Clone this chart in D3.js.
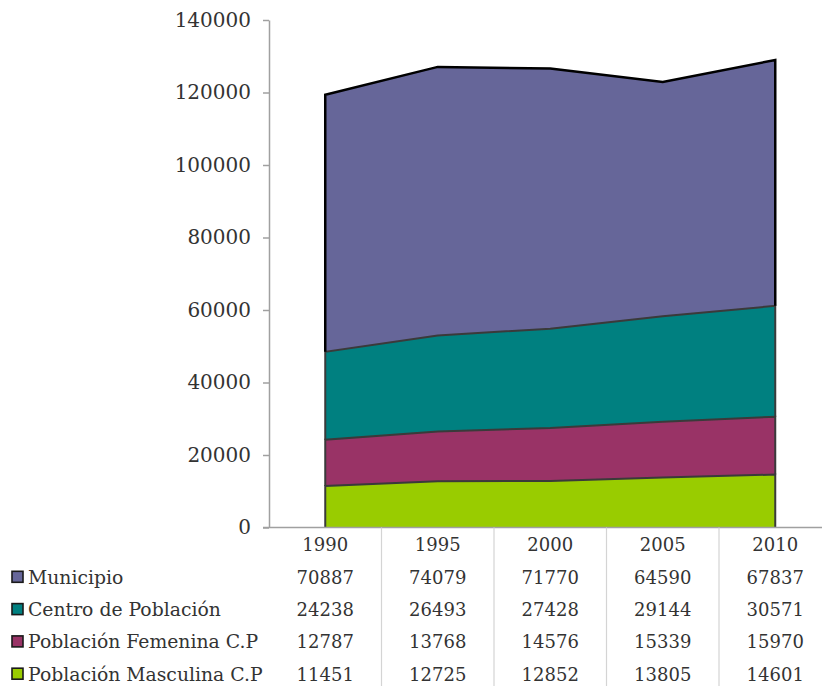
<!DOCTYPE html>
<html><head><meta charset="utf-8">
<script src="https://cdn.jsdelivr.net/npm/d3@7"></script>
<style>
html,body{margin:0;padding:0;background:#fff;}
svg{display:block;}
text{font-family:"DejaVu Serif",Georgia,serif;fill:#333;}
</style></head>
<body>
<svg id="c" width="822" height="686"></svg>
<script>
const years = ["1990","1995","2000","2005","2010"];
const seriesNames = ["Municipio","Centro de Población","Población Femenina C.P","Población Masculina C.P"];
const municipio = [70887,74079,71770,64590,67837];
const centro = [24238,26493,27428,29144,30571];
const femenina = [12787,13768,14576,15339,15970];
const masculina = [11451,12725,12852,13805,14601];
const yTicks = [0,20000,40000,60000,80000,100000,120000,140000];
const colors = ["#666699","#008080","#993366","#99CC00"];

const seriesValues = [municipio, centro, femenina, masculina];
const table = years.map((yr,i)=>{
  const o = {year: yr};
  seriesNames.forEach((n,k)=>o[n]=seriesValues[k][i]);
  return o;
});

const svg = d3.select("#c");
const left = 269, bandW = 112.5;
const plotTop = 20, plotBottom = 527.5;
const x = d3.scaleBand().domain(years).range([left, left + bandW*years.length]).padding(0);
const xc = d => x(d) + x.bandwidth()/2;
const y = d3.scaleLinear().domain([0,140000]).range([plotBottom, plotTop]);

const stackKeys = seriesNames.slice().reverse();
const stacked = d3.stack().keys(stackKeys)(table);

const area = d3.area().x(d=>xc(d.data.year)).y0(d=>y(d[0])).y1(d=>y(d[1]));
const outline = layer => {
  const pts = [];
  pts.push([xc(layer[0].data.year), y(layer[0][0])]);
  layer.forEach(d=>pts.push([xc(d.data.year), y(d[1])]));
  const l = layer[layer.length-1];
  pts.push([xc(l.data.year), y(l[0])]);
  return d3.line()(pts);
};

stacked.forEach(layer=>{
  const idx = seriesNames.indexOf(layer.key);
  svg.append("path").attr("d", area(layer)).attr("fill", colors[idx]);
});
stacked.forEach(layer=>{
  const idx = seriesNames.indexOf(layer.key);
  svg.append("path").attr("d", outline(layer)).attr("fill","none")
    .attr("stroke", idx===0 ? "#000" : "#3a3a3a")
    .attr("stroke-width", idx===0 ? 2.5 : 2)
    .attr("stroke-linejoin","miter");
});

const yAxis = d3.axisLeft(y).tickValues(yTicks).tickSize(6).tickSizeOuter(0).tickPadding(12).tickFormat(d3.format("d"));
const ga = svg.append("g").attr("transform",`translate(${left},0)`).call(yAxis);
ga.select(".domain").attr("stroke","#a0a0a0").attr("stroke-width",1.5);
ga.selectAll(".tick line").attr("stroke","#a0a0a0").attr("stroke-width",1.5);
ga.selectAll(".tick text").attr("font-size",20).attr("font-family","DejaVu Serif").attr("fill","#333");

svg.append("line").attr("x1",left-6).attr("x2",822).attr("y1",plotBottom).attr("y2",plotBottom)
  .attr("stroke","#a0a0a0").attr("stroke-width",1.5);

years.slice(1).forEach(yr=>{
  svg.append("line").attr("x1",x(yr)).attr("x2",x(yr)).attr("y1",plotBottom).attr("y2",686)
    .attr("stroke","#d4d4d4").attr("stroke-width",1.2);
});

const rowY0 = 545, rowStep = 32.3;
svg.selectAll(".yr").data(years).enter().append("text")
  .attr("x", d=>xc(d)).attr("y", rowY0).attr("dy","0.35em")
  .attr("text-anchor","middle").attr("font-size",18).text(d=>d);

seriesNames.forEach((n,k)=>{
  const ry = rowY0 + rowStep*(k+1);
  svg.append("rect").attr("x",12).attr("y",ry-6).attr("width",11).attr("height",11)
    .attr("fill",colors[k]).attr("stroke","#1a1a1a").attr("stroke-width",1.6);
  svg.append("text").attr("x",28).attr("y",ry).attr("dy","0.35em").attr("font-size",18.8).text(n);
  table.forEach(row=>{
    svg.append("text").attr("x",xc(row.year)).attr("y",ry).attr("dy","0.35em")
      .attr("text-anchor","middle").attr("font-size",18).text(row[n]);
  });
});
</script>
</body></html>
